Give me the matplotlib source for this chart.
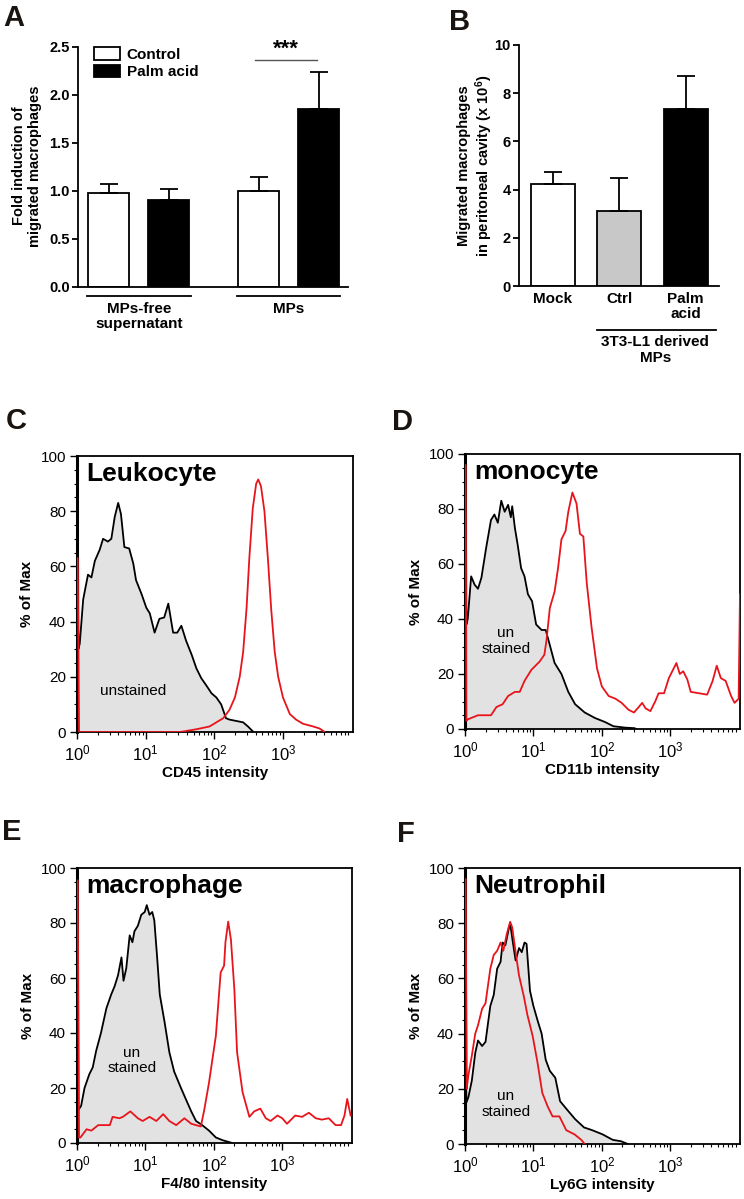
import numpy as np
import matplotlib.pyplot as plt
from matplotlib.patches import Patch
from matplotlib.ticker import MultipleLocator, NullFormatter, LogLocator

plt.rcParams['font.family'] = ['Liberation Sans', 'DejaVu Sans']
plt.rcParams['mathtext.fontset'] = 'custom'
plt.rcParams['mathtext.rm'] = 'Liberation Sans'
plt.rcParams['mathtext.it'] = 'Liberation Sans:italic'
plt.rcParams['mathtext.bf'] = 'Liberation Sans:bold'

# ---- panel A: fold induction
groups_a = ['MPs-free\nsupernatant', 'MPs']
control_a = [0.98, 1.00]
control_a_err = [0.09, 0.15]
palm_a = [0.91, 1.85]
palm_a_err = [0.11, 0.39]

# ---- panel B: migrated macrophages (x 10^6)
cats_b = ['Mock', 'Ctrl', 'Palm\nacid']
vals_b = [4.23, 3.10, 7.33]
errs_b = [0.50, 1.37, 1.37]

# ---- flow histograms, x in decades (log10 intensity), y in % of max
c_blk_x = [0.0, 0.012, 0.02, 0.04, 0.09, 0.16, 0.21, 0.26, 0.33, 0.38, 0.45, 0.50, 0.55, 0.60, 0.64,
           0.69, 0.76, 0.82, 0.86, 0.94, 1.01, 1.06, 1.13, 1.20, 1.27, 1.33, 1.40, 1.46, 1.52, 1.59,
           1.67, 1.74, 1.81, 1.88, 1.96, 2.03, 2.10, 2.17, 2.22, 2.32, 2.42, 2.49, 2.57]
c_blk_y = [100, 100, 30, 32, 48, 57, 56, 62, 66, 70, 69, 70, 78, 83, 79, 67, 66.5, 61, 55, 50, 45, 43,
           36, 41, 41.5, 46.5, 36, 36, 38.5, 33, 28, 23, 19.5, 17, 14, 12.5, 10, 5, 4.5, 4, 3.5, 2, 0]
c_red_x = [0.0, 0.01, 0.03, 1.50, 1.74, 1.93, 2.03, 2.13, 2.22, 2.30, 2.37, 2.42, 2.47, 2.51, 2.56,
           2.61, 2.64, 2.68, 2.73, 2.78, 2.83, 2.88, 2.93, 3.00, 3.10, 3.19, 3.29, 3.44, 3.53, 3.61]
c_red_y = [63, 63, 0, 0, 1, 2, 3.5, 5, 8, 12.5, 20, 29, 45, 63, 81, 90, 91.5, 89, 80, 63, 44, 29,
           20, 12.5, 6.5, 4.5, 3, 2, 1.3, 0]

d_blk_x = [0.0, 0.012, 0.02, 0.04, 0.09, 0.14, 0.19, 0.24, 0.31, 0.38, 0.43, 0.48, 0.53, 0.58, 0.63,
           0.67, 0.69, 0.73, 0.77, 0.82, 0.87, 0.92, 0.98, 1.04, 1.12, 1.18, 1.24, 1.31, 1.41, 1.51,
           1.61, 1.75, 1.90, 2.05, 2.17, 2.34, 2.48, 2.50]
d_blk_y = [100, 100, 38, 40, 55.5, 52.5, 51, 55, 66, 76, 78, 75, 83, 79, 81.5, 77, 81, 73, 67, 58.5,
           55.5, 49, 46.5, 38, 36, 36, 30.5, 24, 20, 13.5, 9, 6, 4, 2.5, 1, 0.5, 0.3, 0]
d_red_x = [0.0, 0.01, 0.02, 0.04, 0.19, 0.38, 0.46, 0.55, 0.63, 0.73, 0.80, 0.87, 0.97, 1.09, 1.16,
           1.19, 1.24, 1.31, 1.36, 1.41, 1.47, 1.51, 1.57, 1.63, 1.68, 1.73, 1.78, 1.85, 1.93, 2.00,
           2.10, 2.20, 2.29, 2.39, 2.47, 2.54, 2.59, 2.64, 2.71, 2.78, 2.83, 2.91, 2.98, 3.03, 3.09,
           3.14, 3.19, 3.25, 3.30, 3.42, 3.54, 3.62, 3.68, 3.74, 3.81, 3.89, 3.94, 4.00, 4.02]
d_red_y = [96, 96, 3, 3.5, 5, 5, 8, 9, 12, 13.5, 13.5, 17.5, 21.5, 24.5, 27, 32, 44, 50, 58.5, 69,
           72, 79, 86, 82, 71, 70, 53, 37, 22, 15.5, 12, 11, 9.5, 7, 6, 8, 9.5, 7.5, 6.5, 10, 13, 13,
           18.5, 21, 24, 20, 21, 18, 13.5, 13, 12.5, 17.5, 23, 18.5, 17.5, 12, 9.5, 11, 49]

e_blk_x = [0.0, 0.012, 0.02, 0.06, 0.11, 0.18, 0.23, 0.28, 0.35, 0.43, 0.50, 0.55, 0.60, 0.65, 0.68,
           0.72, 0.77, 0.81, 0.84, 0.89, 0.94, 0.99, 1.02, 1.06, 1.10, 1.13, 1.17, 1.21, 1.28, 1.35,
           1.42, 1.52, 1.59, 1.67, 1.74, 1.83, 1.93, 2.03, 2.13, 2.27]
e_blk_y = [100, 100, 12, 13.5, 20, 25, 27.5, 33.5, 40, 49, 54, 57, 61, 67.5, 59, 63.5, 75.5, 73, 77,
           79, 83, 84, 86.5, 83, 84, 81, 68, 54, 44, 33, 26, 20, 16, 11.5, 8, 6.5, 4.5, 2, 1, 0]
e_red_x = [0.0, 0.01, 0.03, 0.05, 0.14, 0.21, 0.31, 0.48, 0.52, 0.62, 0.67, 0.78, 0.89, 0.96, 1.06,
           1.16, 1.26, 1.35, 1.45, 1.57, 1.67, 1.81, 1.86, 1.93, 2.03, 2.10, 2.15, 2.17, 2.21, 2.25,
           2.30, 2.34, 2.42, 2.52, 2.59, 2.68, 2.76, 2.83, 2.93, 3.00, 3.07, 3.19, 3.29, 3.39, 3.49,
           3.58, 3.68, 3.78, 3.86, 3.91, 3.95, 4.00]
e_red_y = [95.5, 95.5, 2, 2, 5, 4.5, 6.5, 6.5, 9.5, 9, 9.5, 11.5, 9, 8, 9.5, 8, 10.5, 8, 6.5, 9, 7,
           6, 12, 22, 39, 62, 64.5, 73, 80.5, 74, 56, 33, 18.5, 9.5, 11.5, 12.5, 9, 8, 10, 9, 7, 10,
           9.5, 11, 9, 8.5, 9, 6.5, 6.5, 10, 16, 10]

f_blk_x = [0.0, 0.012, 0.02, 0.05, 0.10, 0.15, 0.19, 0.25, 0.30, 0.37, 0.42, 0.47, 0.52, 0.55, 0.59,
           0.64, 0.66, 0.70, 0.74, 0.79, 0.83, 0.87, 0.90, 0.95, 1.00, 1.07, 1.12, 1.18, 1.24, 1.32,
           1.39, 1.49, 1.61, 1.74, 1.86, 2.01, 2.16, 2.28, 2.38]
f_blk_y = [100, 100, 15, 17, 23, 33, 37.5, 35.5, 37, 50, 54, 63.5, 66, 73, 72, 78, 80, 73, 66.5, 71,
           69.5, 73, 72.5, 55.5, 50, 44, 40, 30.5, 26.5, 24, 15.5, 12.5, 9, 6, 5, 3.5, 1.5, 1, 0]
f_red_x = [0.0, 0.01, 0.025, 0.05, 0.10, 0.15, 0.19, 0.25, 0.30, 0.37, 0.42, 0.47, 0.52, 0.56, 0.61,
           0.66, 0.69, 0.74, 0.79, 0.86, 0.91, 0.99, 1.06, 1.13, 1.21, 1.28, 1.38, 1.48, 1.60, 1.70,
           1.75]
f_red_y = [96, 96, 20, 25, 32, 40, 43, 49, 51, 63.5, 68.5, 70, 73, 70, 76, 80.5, 78.5, 69.5, 61,
           53.5, 47, 39, 29.5, 18.5, 13.5, 10, 10, 5, 3.5, 1.5, 0]

W, H = 744, 1199
fig = plt.figure(figsize=(W / 100, H / 100), dpi=100)


def box(l, t, r, b):
    return [l / W, 1 - b / H, (r - l) / W, (b - t) / H]


def letter(x, y, s):
    fig.text(x / W, 1 - y / H, s, fontsize=21, fontweight='bold', color='#1a1410',
             ha='center', va='center')


# ---------------- A
axA = fig.add_axes(box(78, 47, 348, 287))
pos_ctrl = [0, 2.5]
pos_palm = [1, 3.5]
ekw = dict(elinewidth=1.3, capthick=1.3, ecolor='black')
axA.bar(pos_ctrl, control_a, width=0.68, color='white', edgecolor='black', lw=1.3,
        yerr=[[0, 0], control_a_err], capsize=6.5, error_kw=ekw, zorder=2)
axA.bar(pos_palm, palm_a, width=0.68, color='black', edgecolor='black', lw=1.3,
        yerr=[[0, 0], palm_a_err], capsize=6.5, error_kw=ekw, zorder=2)
axA.set_xlim(-0.51, 3.99)
axA.set_ylim(0, 2.5)
axA.set_yticks(np.arange(0, 2.51, 0.5))
axA.set_yticklabels(['%.1f' % v for v in np.arange(0, 2.51, 0.5)], fontweight='bold', fontsize=10.5)
axA.set_xticks([])
for s in ['top', 'right']:
    axA.spines[s].set_visible(False)
for s in ['left', 'bottom']:
    axA.spines[s].set_linewidth(1.3)
axA.tick_params(axis='y', direction='out', length=4, width=1.3, pad=2)
axA.plot([2.44, 3.475], [2.36, 2.36], color='#555555', lw=1)
axA.text(2.95, 2.37, '***', ha='center', va='bottom', fontsize=16, fontweight='bold')
for (x0, x1), lab in zip([(-0.36, 1.375), (2.14, 3.86)], groups_a):
    axA.plot([x0, x1], [-0.094, -0.094], color='black', lw=1.3, clip_on=False)
    axA.text((x0 + x1) / 2, -0.155, lab, ha='center', va='top', fontsize=11,
             fontweight='bold', linespacing=1.1)
handles = [Patch(facecolor='white', edgecolor='black', lw=1.3, label='Control'),
           Patch(facecolor='black', edgecolor='black', lw=1.3, label='Palm acid')]
axA.legend(handles=handles, loc='upper left', bbox_to_anchor=(0.03, 1.03), frameon=False,
           borderpad=0, handlelength=1.75, handleheight=0.85, labelspacing=0.2, handletextpad=0.4,
           prop=dict(weight='bold', size=11))
fig.text(27 / W, 1 - 166 / H, 'Fold induction of\nmigrated macrophages', rotation=90,
         ha='center', va='center', fontsize=10.5, fontweight='bold', linespacing=1.15)
letter(14, 18, 'A')

# ---------------- B
axB = fig.add_axes(box(519, 45, 719, 286))
axB.bar([0, 1, 2], vals_b, width=0.66, color=['white', '#c8c8c8', 'black'], edgecolor='black',
        lw=1.3, yerr=[[0, 0, 0], errs_b], capsize=6.5, error_kw=ekw, zorder=2)
axB.set_xlim(-0.51, 2.5)
axB.set_ylim(0, 10)
axB.set_yticks(range(0, 11, 2))
axB.set_yticklabels([str(v) for v in range(0, 11, 2)], fontweight='bold', fontsize=10.5)
axB.set_xticks([0, 1, 2])
axB.set_xticklabels(cats_b, fontweight='bold', fontsize=11, linespacing=1.1)
axB.tick_params(axis='x', length=0, pad=4)
axB.tick_params(axis='y', direction='out', length=4, width=1.3, pad=2)
for s in ['top', 'right']:
    axB.spines[s].set_visible(False)
for s in ['left', 'bottom']:
    axB.spines[s].set_linewidth(1.3)
axB.plot([0.66, 2.46], [-1.83, -1.83], color='black', lw=1.3, clip_on=False)
axB.text(1.54, -2.05, '3T3-L1 derived\nMPs', ha='center', va='top', fontsize=11,
         fontweight='bold', linespacing=1.1)
fig.text(476 / W, 1 - 166 / H, 'Migrated macrophages\nin peritoneal cavity (x 10$^\\mathbf{6}$)',
         rotation=90, ha='center', va='center', fontsize=10.5, fontweight='bold', linespacing=1.15)
letter(460, 22, 'B')


# ---------------- flow histograms
def hist_panel(rect, bx, by, rx, ry, title, xlabel, lab_xy):
    ax = fig.add_axes(box(*rect))
    bx = 10 ** np.array(bx)
    rx = 10 ** np.array(rx)
    ax.fill_between(bx, by, color='#e2e2e2', lw=0, zorder=1)
    ax.plot(bx, by, color='black', lw=1.3, zorder=2)
    ax.plot(rx, ry, color='#e8141c', lw=1.3, zorder=3)
    ax.set_xscale('log')
    ax.set_xlim(1, 10 ** 4.02)
    ax.set_ylim(0, 100)
    ax.set_xticks([1, 10, 100, 1000])
    ax.set_xticklabels(['$10^{0}$', '$10^{1}$', '$10^{2}$', '$10^{3}$'], fontsize=12)
    ax.xaxis.set_minor_locator(LogLocator(base=10, subs=np.arange(2, 10)))
    ax.xaxis.set_minor_formatter(NullFormatter())
    ax.set_yticks(range(0, 101, 20))
    ax.set_yticklabels([str(v) for v in range(0, 101, 20)], fontsize=11)
    ax.yaxis.set_minor_locator(MultipleLocator(5))
    ax.tick_params(which='major', direction='out', length=5, width=1, pad=3)
    ax.tick_params(which='minor', direction='out', length=2.5, width=0.8)
    for s in ax.spines.values():
        s.set_linewidth(1.3)
    ax.spines['left'].set_linewidth(2.2)
    ax.set_xlabel(xlabel, fontsize=11, fontweight='bold', labelpad=2)
    ax.text(-0.18, 0.5, '% of Max', transform=ax.transAxes, rotation=90, ha='center',
            va='center', fontsize=11, fontweight='bold')
    ax.text(0.033, 0.978, title, transform=ax.transAxes, ha='left', va='top', fontsize=19,
            fontweight='bold')
    ax.text(10 ** lab_xy[0], lab_xy[1], lab_xy[2], ha='center', va='center', fontsize=11,
            linespacing=1.15)
    return ax


hist_panel((77, 456, 353, 732), c_blk_x, c_blk_y, c_red_x, c_red_y, 'Leukocyte',
           'CD45 intensity', (0.82, 15, 'unstained'))
letter(16, 421, 'C')
hist_panel((465, 454, 740, 729), d_blk_x, d_blk_y, d_red_x, d_red_y, 'monocyte',
           'CD11b intensity', (0.6, 32, 'un\nstained'))
letter(403, 422, 'D')
hist_panel((77, 868, 352, 1143), e_blk_x, e_blk_y, e_red_x, e_red_y, 'macrophage',
           'F4/80 intensity', (0.8, 30, 'un\nstained'))
letter(12, 832, 'E')
hist_panel((465, 868, 740, 1144), f_blk_x, f_blk_y, f_red_x, f_red_y, 'Neutrophil',
           'Ly6G intensity', (0.6, 14.5, 'un\nstained'))
letter(406, 834, 'F')

fig.savefig('out.png', dpi=100)
